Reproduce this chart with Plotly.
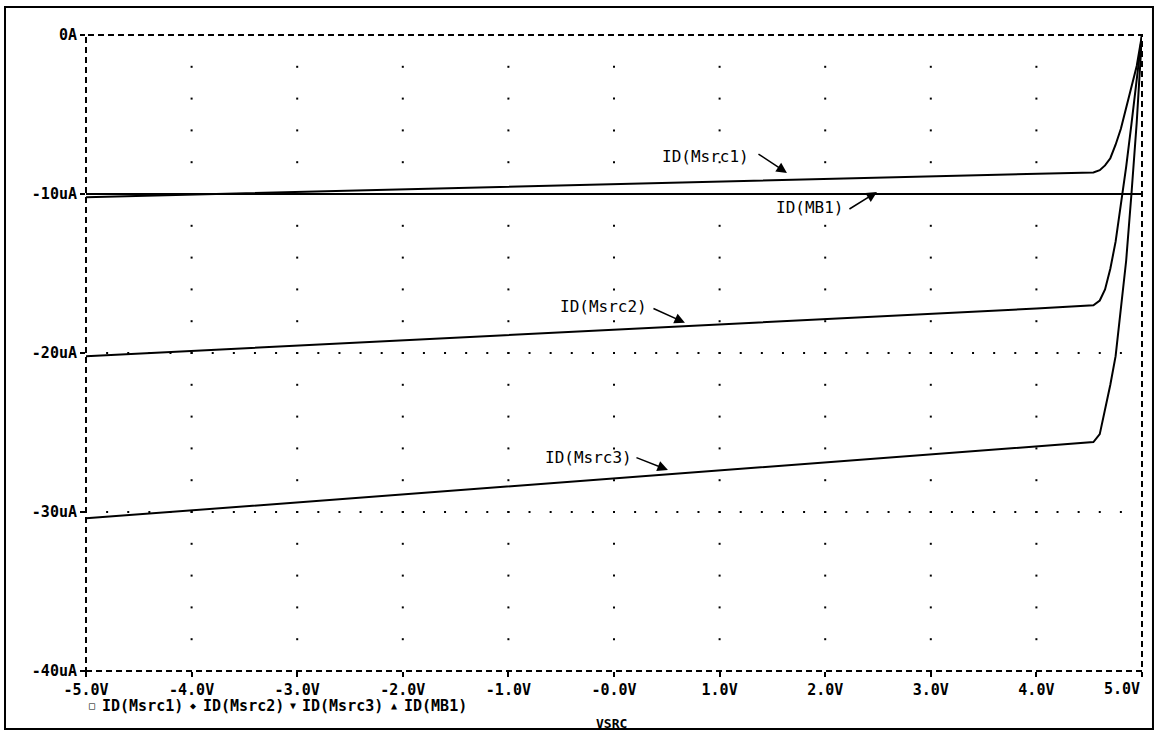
import numpy as np
import plotly.graph_objects as go

# Sweep voltage (V) and drain currents (uA)
vsrc = [-5.0, -4.0, -3.0, -2.0, -1.0, 0.0, 1.0, 2.0, 3.0, 4.0,
        4.54, 4.6, 4.65, 4.7, 4.75, 4.8, 4.85, 4.9, 4.95, 5.0]
id_msrc1 = [-10.2, -10.04, -9.87, -9.71, -9.54, -9.38, -9.22, -9.05, -8.89, -8.72,
            -8.64, -8.5, -8.2, -7.75, -6.9, -5.9, -4.6, -3.35, -1.95, 0.0]
id_msrc2 = [-20.2, -19.87, -19.53, -19.2, -18.87, -18.53, -18.2, -17.87, -17.53, -17.2,
            -17.0, -16.7, -16.0, -14.7, -13.0, -10.8, -8.3, -5.6, -2.9, 0.0]
id_msrc3 = [-30.4, -29.9, -29.4, -28.9, -28.4, -27.9, -27.4, -26.9, -26.4, -25.9,
            -25.6, -25.1, -23.6, -22.0, -20.2, -17.4, -14.2, -10.0, -5.5, 0.0]
id_mb1 = [-10.0] * len(vsrc)

x_ticks = [-5, -4, -3, -2, -1, 0, 1, 2, 3, 4, 5]
x_labels = ["-5.0V", "-4.0V", "-3.0V", "-2.0V", "-1.0V", "-0.0V",
            "1.0V", "2.0V", "3.0V", "4.0V", "5.0V"]
y_ticks = [0, -10, -20, -30, -40]
y_labels = ["0A", "-10uA", "-20uA", "-30uA", "-40uA"]

series_names = ["ID(Msrc1)", "ID(Msrc2)", "ID(Msrc3)", "ID(MB1)"]
legend_symbols = ["□", "◆", "▼", "▲"]

MONO = "DejaVu Sans Mono"

fig = go.Figure()

# dotted grid: dots every 2uA along each volt line, every 0.2V along each 10uA line
gx, gy = [], []
for xv in range(-4, 5):
    for yv in np.arange(-2, -40, -2):
        gx.append(xv)
        gy.append(float(yv))
for yv in (-10, -20, -30):
    for xv in np.round(np.arange(-4.8, 4.81, 0.2), 2):
        gx.append(float(xv))
        gy.append(yv)
fig.add_trace(go.Scatter(x=gx, y=gy, mode="markers", hoverinfo="skip",
                         marker=dict(symbol="square", size=2, color="black",
                                     line=dict(width=0)),
                         showlegend=False))

for name, ys in zip(series_names, [id_msrc1, id_msrc2, id_msrc3, id_mb1]):
    fig.add_trace(go.Scatter(x=vsrc, y=ys, mode="lines", name=name,
                             line=dict(color="black", width=2),
                             showlegend=False))

# dashed plot frame and solid outer border
fig.add_shape(type="rect", xref="paper", yref="paper", x0=0, x1=1, y0=0, y1=1,
              line=dict(color="black", width=2, dash="6px,4px"), layer="above")
fig.add_shape(type="rect", xref="paper", yref="paper",
              x0=-0.0767, x1=1.0104, y0=-0.0912, y1=1.044,
              line=dict(color="black", width=2))

# curve labels with pointer arrows
label_font = dict(family=MONO, size=16, color="black")
trace_labels = [
    ("ID(Msrc1)", 0.871, -7.67, 1.638, -8.68, -30, -20),
    ("ID(MB1)", 1.856, -10.82, 2.49, -9.87, -29, 18),
    ("ID(Msrc2)", -0.095, -17.1, 0.672, -18.1, -33, -15),
    ("ID(Msrc3)", -0.246, -26.6, 0.511, -27.36, -33, -13),
]
for txt, tx, ty, hx, hy, ax, ay in trace_labels:
    fig.add_annotation(x=tx, y=ty, text=txt, showarrow=False, font=label_font)
    fig.add_annotation(x=hx, y=hy, text="", showarrow=True, ax=ax, ay=ay,
                       arrowhead=2, arrowsize=1.4, arrowwidth=1.5,
                       arrowcolor="black")

bold = dict(family=MONO, size=15, color="black", weight="bold")

# legend row under the axis: symbol, then series name
legend_sym_x = [0.0057, 0.1013, 0.1960, 0.2917]
legend_txt_x = [0.0133, 0.1089, 0.2027, 0.2992]
for sym, name, sx, tx in zip(legend_symbols, series_names, legend_sym_x, legend_txt_x):
    fig.add_annotation(xref="paper", yref="paper", x=sx, y=-0.055,
                       xanchor="center", yanchor="middle", showarrow=False,
                       font=dict(family=MONO, size=10, color="black"), text=sym)
    fig.add_annotation(xref="paper", yref="paper", x=tx, y=-0.055,
                       xanchor="left", yanchor="middle", showarrow=False,
                       font=bold, text=name)

# last tick label sits flush with the right edge of the frame
fig.add_annotation(xref="x", yref="paper", x=5, y=-0.0283, xanchor="right",
                   yanchor="middle", showarrow=False, font=bold,
                   text=x_labels[-1])
fig.add_annotation(xref="paper", yref="paper", x=0.498, y=-0.082,
                   xanchor="center", yanchor="middle", showarrow=False,
                   font=dict(family=MONO, size=13, color="black", weight="bold"),
                   text="VSRC")

fig.update_xaxes(range=[-5, 5], tickvals=x_ticks, ticktext=x_labels[:-1] + [""],
                 ticks="outside", ticklen=5, tickwidth=1.5, tickcolor="black",
                 showgrid=False, zeroline=False, showline=False,
                 tickfont=bold)
fig.update_yaxes(range=[-40, 0], tickvals=y_ticks, ticktext=y_labels,
                 ticks="outside", ticklen=5, tickwidth=1.5, tickcolor="black",
                 showgrid=False, zeroline=False, showline=False,
                 tickfont=bold)

fig.update_layout(width=1156, height=732,
                  margin=dict(l=86, r=14, t=35, b=61),
                  paper_bgcolor="white", plot_bgcolor="white",
                  showlegend=False)

fig.write_html("out.html")
